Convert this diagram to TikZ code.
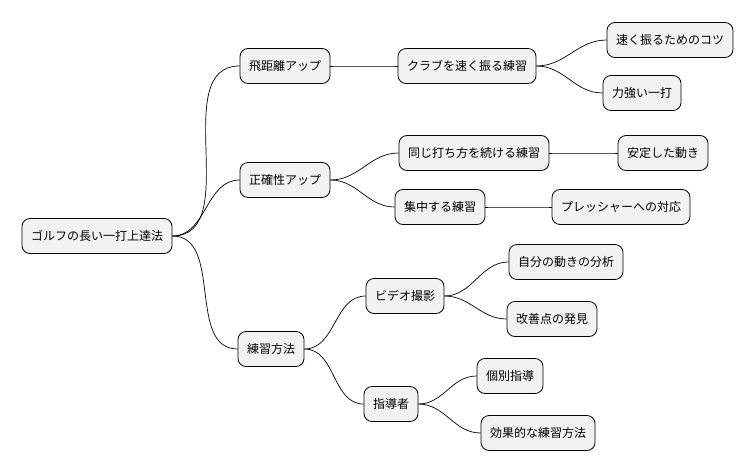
\documentclass[tikz,border=0pt]{standalone}
\usepackage{fontspec}
\setmainfont{Noto Sans CJK JP}
\begin{document}
\begin{tikzpicture}[x=1pt,y=-1pt,
  topic/.style={draw=black, fill=gray!10, rounded corners=8pt, line width=0.8pt,
    minimum height=35pt, inner xsep=9pt, font=\fontsize{12}{14}\selectfont},
  link/.style={line width=0.7pt, out=0, in=180}]
\useasboundingbox (0,0) rectangle (754,471);
  % root and first level
  \node[topic] (golf) at (97,236) {ゴルフの長い一打上達法};
  \node[topic] (dist) at (285,66) {飛距離アップ};
  \node[topic] (acc) at (285,180) {正確性アップ};
  \node[topic] (prac) at (271,349) {練習方法};
  % second level
  \node[topic] (swing) at (467,66) {クラブを速く振る練習};
  \node[topic] (same) at (474,153) {同じ打ち方を続ける練習};
  \node[topic] (focus) at (440,207) {集中する練習};
  \node[topic] (video) at (405,296) {ビデオ撮影};
  \node[topic] (coach) at (391,404) {指導者};
  % leaves
  \node[topic] (tips) at (670,40) {速く振るためのコツ};
  \node[topic] (power) at (642,93) {力強い一打};
  \node[topic] (stable) at (663,153) {安定した動き};
  \node[topic] (press) at (621,207) {プレッシャーへの対応};
  \node[topic] (self) at (566,262) {自分の動きの分析};
  \node[topic] (fix) at (552,319) {改善点の発見};
  \node[topic] (indiv) at (510,376) {個別指導};
  \node[topic] (eff) at (538,433) {効果的な練習方法};

  \foreach \a/\b in {golf/dist, golf/acc, golf/prac, dist/swing, acc/same,
      acc/focus, prac/video, prac/coach, swing/tips, swing/power, same/stable,
      focus/press, video/self, video/fix, coach/indiv, coach/eff}
    \draw[link] (\a.east) to (\b.west);
\end{tikzpicture}
\end{document}
